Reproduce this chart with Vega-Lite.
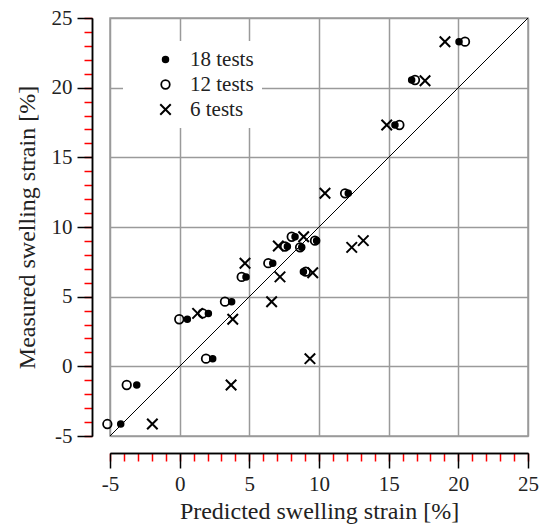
{
  "$schema": "https://vega.github.io/schema/vega-lite/v6.json",
  "width": 418,
  "height": 418,
  "autosize": {"type": "none"},
  "padding": {"left": 110, "top": 18, "right": 19, "bottom": 88},
  "background": "white",
  "config": {
    "view": {"stroke": "#9a9a9a", "strokeWidth": 1.5},
    "font": "Liberation Serif"
  },
  "datasets": {
    "diag": [{"x": -5, "y": -5}, {"x": 25, "y": 25}],
    "pts": [
      {"p": -5.19, "m": -4.14, "tests": "12 tests"},
      {"p": -3.8, "m": -1.34, "tests": "12 tests"},
      {"p": 1.89, "m": 0.55, "tests": "12 tests"},
      {"p": -0.03, "m": 3.38, "tests": "12 tests"},
      {"p": 1.65, "m": 3.8, "tests": "12 tests"},
      {"p": 3.25, "m": 4.64, "tests": "12 tests"},
      {"p": 4.45, "m": 6.42, "tests": "12 tests"},
      {"p": 6.36, "m": 7.4, "tests": "12 tests"},
      {"p": 9.05, "m": 6.79, "tests": "12 tests"},
      {"p": 7.56, "m": 8.6, "tests": "12 tests"},
      {"p": 8.04, "m": 9.3, "tests": "12 tests"},
      {"p": 8.64, "m": 8.54, "tests": "12 tests"},
      {"p": 9.71, "m": 9.02, "tests": "12 tests"},
      {"p": 11.87, "m": 12.42, "tests": "12 tests"},
      {"p": 15.77, "m": 17.32, "tests": "12 tests"},
      {"p": 16.89, "m": 20.55, "tests": "12 tests"},
      {"p": 20.48, "m": 23.3, "tests": "12 tests"},
      {"p": -4.23, "m": -4.14, "tests": "18 tests"},
      {"p": -3.08, "m": -1.34, "tests": "18 tests"},
      {"p": 2.37, "m": 0.55, "tests": "18 tests"},
      {"p": 0.55, "m": 3.38, "tests": "18 tests"},
      {"p": 2.06, "m": 3.8, "tests": "18 tests"},
      {"p": 3.73, "m": 4.64, "tests": "18 tests"},
      {"p": 4.76, "m": 6.42, "tests": "18 tests"},
      {"p": 6.68, "m": 7.4, "tests": "18 tests"},
      {"p": 8.88, "m": 6.79, "tests": "18 tests"},
      {"p": 7.73, "m": 8.6, "tests": "18 tests"},
      {"p": 8.28, "m": 9.3, "tests": "18 tests"},
      {"p": 8.76, "m": 8.54, "tests": "18 tests"},
      {"p": 9.83, "m": 9.02, "tests": "18 tests"},
      {"p": 12.1, "m": 12.42, "tests": "18 tests"},
      {"p": 15.45, "m": 17.32, "tests": "18 tests"},
      {"p": 16.65, "m": 20.55, "tests": "18 tests"},
      {"p": 20.05, "m": 23.3, "tests": "18 tests"},
      {"p": -1.96, "m": -4.14, "tests": "6 tests"},
      {"p": 3.69, "m": -1.34, "tests": "6 tests"},
      {"p": 9.35, "m": 0.55, "tests": "6 tests"},
      {"p": 3.81, "m": 3.38, "tests": "6 tests"},
      {"p": 1.29, "m": 3.8, "tests": "6 tests"},
      {"p": 6.6, "m": 4.64, "tests": "6 tests"},
      {"p": 7.2, "m": 6.42, "tests": "6 tests"},
      {"p": 4.69, "m": 7.4, "tests": "6 tests"},
      {"p": 9.55, "m": 6.72, "tests": "6 tests"},
      {"p": 7.08, "m": 8.64, "tests": "6 tests"},
      {"p": 8.9, "m": 9.3, "tests": "6 tests"},
      {"p": 12.35, "m": 8.54, "tests": "6 tests"},
      {"p": 13.18, "m": 9.02, "tests": "6 tests"},
      {"p": 10.43, "m": 12.42, "tests": "6 tests"},
      {"p": 14.86, "m": 17.32, "tests": "6 tests"},
      {"p": 17.61, "m": 20.5, "tests": "6 tests"},
      {"p": 19.04, "m": 23.3, "tests": "6 tests"}
    ]
  },
  "resolve": {"axis": {"x": "independent", "y": "independent"}},
  "layer": [
    {
      "data": {"name": "diag"},
      "mark": {"type": "line", "color": "black", "strokeWidth": 1},
      "encoding": {
        "x": {
          "field": "x", "type": "quantitative",
          "scale": {"domain": [-5, 25], "nice": false, "zero": false},
          "axis": {
            "orient": "bottom",
            "values": [-5,-4,-3,-2,-1,0,1,2,3,4,5,6,7,8,9,10,11,12,13,14,15,16,17,18,19,20,21,22,23,24,25],
            "tickCount": 100,
            "offset": 17,
            "tickSize": 8,
            "labels": false, "grid": false, "title": null,
            "domainColor": "black", "domainWidth": 1.5,
            "tickColor": "red", "tickWidth": 1.5
          }
        },
        "y": {
          "field": "y", "type": "quantitative",
          "scale": {"domain": [-5, 25], "nice": false, "zero": false},
          "axis": {
            "orient": "left",
            "values": [-5,-4,-3,-2,-1,0,1,2,3,4,5,6,7,8,9,10,11,12,13,14,15,16,17,18,19,20,21,22,23,24,25],
            "tickCount": 100,
            "offset": 18,
            "tickSize": 8,
            "labels": false, "grid": false, "title": null,
            "domainColor": "black", "domainWidth": 1.5,
            "tickColor": "red", "tickWidth": 1.5
          }
        }
      }
    },
    {
      "data": {"name": "pts"},
      "mark": {"type": "point", "stroke": "black", "opacity": 1, "fillOpacity": 1, "strokeOpacity": 1},
      "encoding": {
        "x": {
          "field": "p", "type": "quantitative",
          "axis": {
            "orient": "bottom",
            "values": [-5, 0, 5, 10, 15, 20, 25],
            "offset": 17,
            "tickSize": 15,
            "labelExpr": "'' + datum.value",
            "grid": true, "gridColor": "#9a9a9a", "gridWidth": 1.5,
            "domainColor": "black", "domainWidth": 1.5,
            "tickColor": "black", "tickWidth": 1.5,
            "labelFontSize": 21, "labelColor": "#222", "labelPadding": 5,
            "labelOverlap": false, "labelFlush": false,
            "title": "Predicted swelling strain [%]",
            "titleFontSize": 24, "titleFontWeight": "normal", "titleColor": "#222", "titlePadding": 5
          }
        },
        "y": {
          "field": "m", "type": "quantitative",
          "axis": {
            "orient": "left",
            "values": [-5, 0, 5, 10, 15, 20, 25],
            "offset": 18,
            "tickSize": 15,
            "labelExpr": "'' + datum.value",
            "grid": true, "gridColor": "#9a9a9a", "gridWidth": 1.5,
            "domainColor": "black", "domainWidth": 1.5,
            "tickColor": "black", "tickWidth": 1.5,
            "labelFontSize": 21, "labelColor": "#222", "labelPadding": 5,
            "labelOverlap": false, "labelFlush": false,
            "title": "Measured swelling strain [%]",
            "titleFontSize": 24, "titleFontWeight": "normal", "titleColor": "#222", "titlePadding": 12
          }
        },
        "shape": {
          "field": "tests", "type": "nominal",
          "scale": {"domain": ["18 tests", "12 tests", "6 tests"], "range": ["circle", "circle", "M-1,-1L1,1M1,-1L-1,1"]},
          "legend": {
            "orient": "none", "legendX": 13, "legendY": 23, "title": null,
            "fillColor": "white", "padding": 8, "rowPadding": 3,
            "labelFontSize": 21, "labelColor": "#222", "labelFont": "Liberation Serif",
            "symbolOffset": 24, "labelOffset": 14, "symbolStrokeColor": "black"
          }
        },
        "size": {
          "field": "tests", "type": "nominal",
          "scale": {"domain": ["18 tests", "12 tests", "6 tests"], "range": [36, 110, 165]}
        },
        "fill": {
          "field": "tests", "type": "nominal",
          "scale": {"domain": ["18 tests", "12 tests", "6 tests"], "range": ["black", "transparent", "transparent"]}
        },
        "strokeWidth": {
          "field": "tests", "type": "nominal",
          "scale": {"domain": ["18 tests", "12 tests", "6 tests"], "range": [1.5, 2, 3]}
        }
      }
    }
  ]
}
